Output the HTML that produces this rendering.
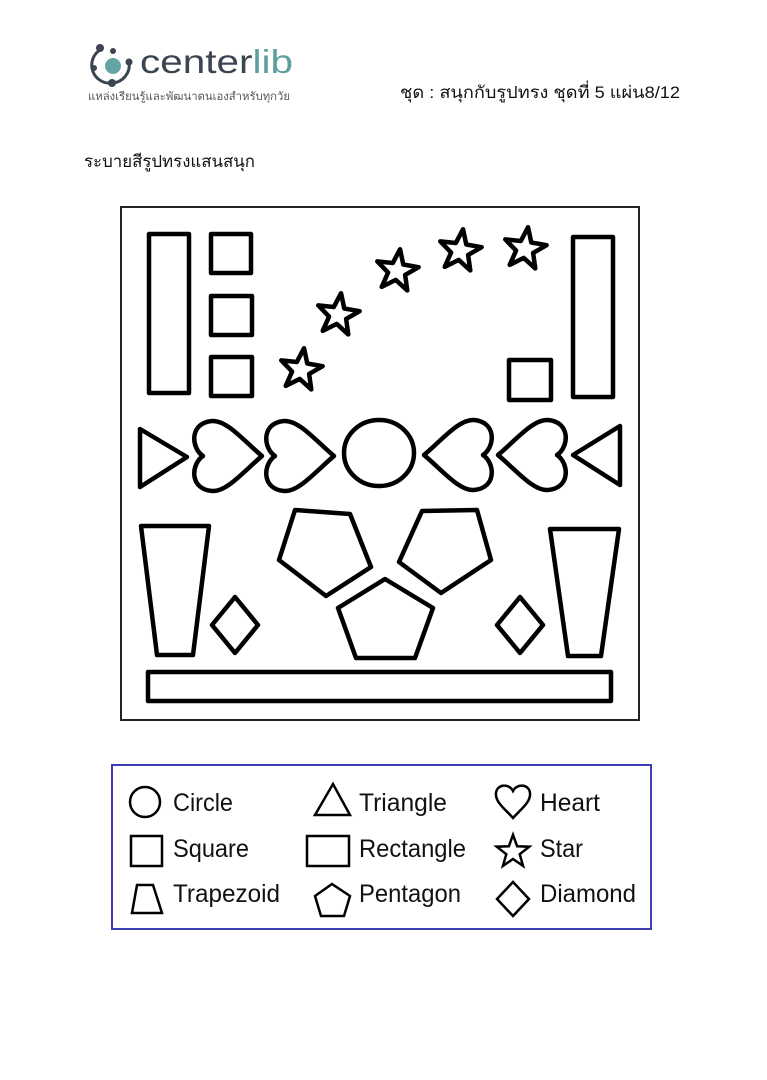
<!DOCTYPE html>
<html><head><meta charset="utf-8"><style>
html,body{margin:0;padding:0;background:#fff;}
svg{display:block;}
</style></head><body>
<svg width="767" height="1080" viewBox="0 0 767 1080" xmlns="http://www.w3.org/2000/svg">
<defs>
<path id="heart" d="M0,-26 C-8,-38 -33,-40 -35,-17 C-36,-2 -15,15 0,33 C15,15 36,-2 35,-17 C33,-40 8,-38 0,-26 Z"/>
<path id="star" d="M0,-22 L5.3,-7.3 L20.9,-6.8 L8.6,2.8 L12.9,17.8 L0,9 L-12.9,17.8 L-8.6,2.8 L-20.9,-6.8 L-5.3,-7.3 Z"/>
</defs>
<!-- logo -->
<g fill="none" stroke="#3b4450" stroke-width="3">
<path d="M100,50 A18,18 0 0 0 112,83"/>
<path d="M112,83 A18,18 0 0 0 129,62"/>
</g>
<g fill="#3b4450">
<circle cx="100" cy="48" r="4"/><circle cx="113" cy="51" r="3"/><circle cx="94" cy="68" r="3"/><circle cx="112" cy="83" r="4"/><circle cx="129" cy="62" r="3.5"/>
</g>
<circle cx="113" cy="66" r="8" fill="#64a5a3"/>
<text x="140" y="73" font-family="Liberation Sans, sans-serif" font-size="33" textLength="153" lengthAdjust="spacingAndGlyphs"><tspan fill="#3b4450">center</tspan><tspan fill="#5f9e9c">lib</tspan></text>
<text x="88" y="100" font-family="Liberation Sans, sans-serif" font-size="11" fill="#555" textLength="202" lengthAdjust="spacingAndGlyphs">แหล่งเรียนรู้และพัฒนาตนเองสำหรับทุกวัย</text>
<text x="400" y="98" font-family="Liberation Sans, sans-serif" font-size="17" fill="#111" textLength="280" lengthAdjust="spacingAndGlyphs">ชุด : สนุกกับรูปทรง  ชุดที่ 5 แผ่น8/12</text>
<text x="84" y="167" font-family="Liberation Sans, sans-serif" font-size="17" fill="#111" textLength="171" lengthAdjust="spacingAndGlyphs">ระบายสีรูปทรงแสนสนุก</text>

<!-- frame -->
<rect x="121" y="207" width="518" height="513" fill="none" stroke="#222" stroke-width="2"/>
<g fill="none" stroke="#000" stroke-width="4.5" stroke-linejoin="round">
<rect x="149" y="234" width="40" height="159"/>
<rect x="211" y="234" width="40" height="39"/>
<rect x="211" y="296" width="41" height="39"/>
<rect x="211" y="357" width="41" height="39"/>
<use href="#star" transform="translate(301,370) rotate(8)"/>
<use href="#star" transform="translate(338,315) rotate(8)"/>
<use href="#star" transform="translate(397,271) rotate(8)"/>
<use href="#star" transform="translate(460,251) rotate(8)"/>
<use href="#star" transform="translate(525,249) rotate(8)"/>
<rect x="509" y="360" width="42" height="40"/>
<rect x="573" y="237" width="40" height="160"/>

<path d="M140,429 L187,457 L140,487 Z"/>
<use href="#heart" transform="translate(229,456) rotate(-90)"/>
<use href="#heart" transform="translate(301,456) rotate(-90)"/>
<ellipse cx="379" cy="453" rx="35" ry="33"/>
<use href="#heart" transform="translate(457,455) rotate(90)"/>
<use href="#heart" transform="translate(531,455) rotate(90)"/>
<path d="M620,426 L573,455 L620,485 Z"/>

<path d="M141,526 L209,526 L193,655 L157,655 Z"/>
<path d="M235,597 L258,625 L235,653 L212,625 Z"/>
<path d="M295,510 L350,514 L371,567 L326,596 L279,560 Z"/>
<path d="M422,511 L477,510 L491,560 L441,593 L399,562 Z"/>
<path d="M385,579 L433,608 L415,658 L356,658 L338,608 Z"/>
<path d="M520,597 L543,625 L520,653 L497,625 Z"/>
<path d="M550,529 L619,529 L601,656 L568,656 Z"/>
<rect x="148" y="672" width="463" height="29"/>
</g>

<!-- legend -->
<rect x="112" y="765" width="539" height="164" fill="none" stroke="#3c3fb3" stroke-width="2"/>
<g fill="none" stroke="#000" stroke-width="2.5" stroke-linejoin="miter">
<circle cx="145" cy="802" r="15"/>
<path d="M315,815 L333,784 L350,815 Z"/>
<path d="M513,818 C505,809 495,802 496,793 C497,784 509,783 513,791 C517,783 529,784 530,793 C531,802 521,809 513,818 Z"/>
<rect x="131" y="836" width="31" height="30"/>
<rect x="307" y="836" width="42" height="30"/>
<use href="#star" transform="translate(513,852) scale(0.78)" stroke-width="3.2"/>
<path d="M137,885 L153,885 L162,913 L132,913 Z"/>
<path d="M332,884 L350,896 L344,916 L321,916 L315,896 Z"/>
<path d="M513,882 L529,899 L513,916 L497,899 Z"/>
</g>
<g font-family="Liberation Sans, sans-serif" font-size="25" fill="#111">
<text x="173" y="811" textLength="60" lengthAdjust="spacingAndGlyphs">Circle</text>
<text x="359" y="811" textLength="88" lengthAdjust="spacingAndGlyphs">Triangle</text>
<text x="540" y="811" textLength="60" lengthAdjust="spacingAndGlyphs">Heart</text>
<text x="173" y="857" textLength="76" lengthAdjust="spacingAndGlyphs">Square</text>
<text x="359" y="857" textLength="107" lengthAdjust="spacingAndGlyphs">Rectangle</text>
<text x="540" y="857" textLength="43" lengthAdjust="spacingAndGlyphs">Star</text>
<text x="173" y="902" textLength="107" lengthAdjust="spacingAndGlyphs">Trapezoid</text>
<text x="359" y="902" textLength="102" lengthAdjust="spacingAndGlyphs">Pentagon</text>
<text x="540" y="902" textLength="96" lengthAdjust="spacingAndGlyphs">Diamond</text>
</g>
</svg>
</body></html>
